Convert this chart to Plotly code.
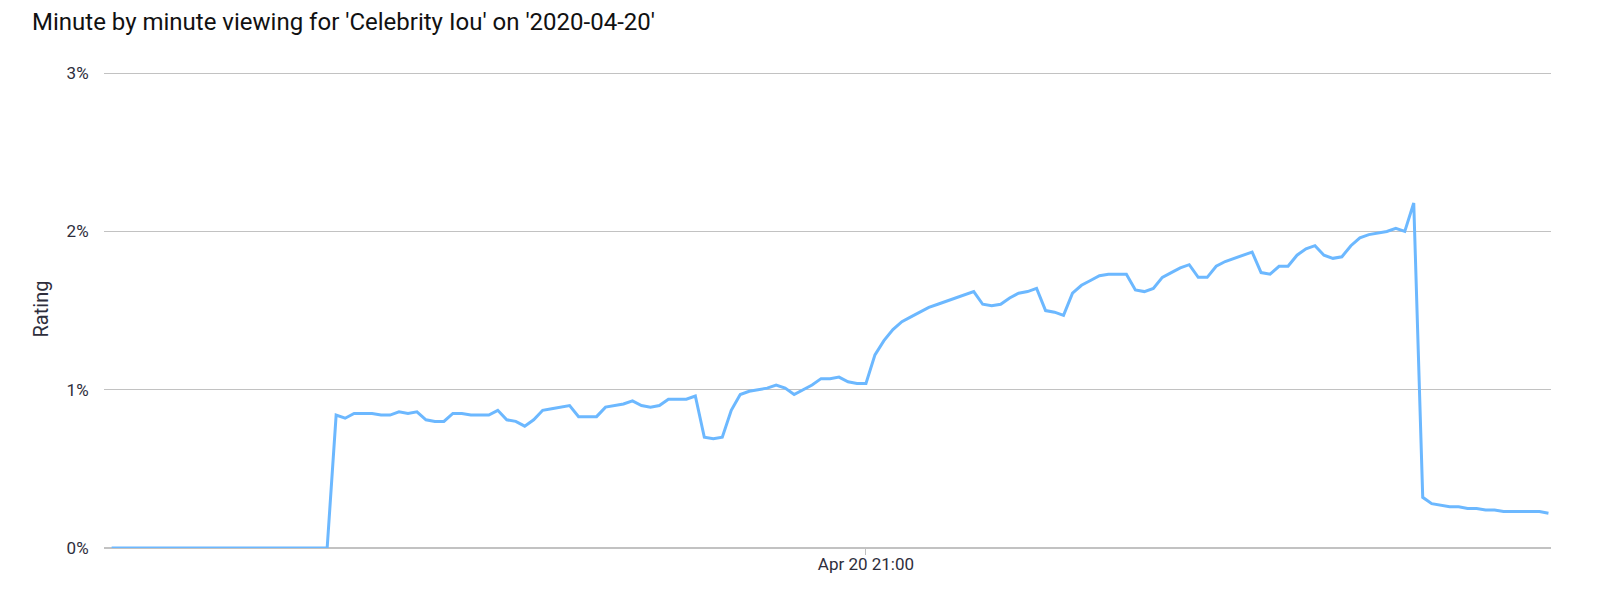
import pandas as pd
import plotly.graph_objects as go

title_text = "Minute by minute viewing for 'Celebrity Iou' on '2020-04-20'"
y_title = "Rating"
start_time = "2020-04-20 19:36"
x_range = ["2020-04-20 19:35:09", "2020-04-20 22:16:17"]
tick_times = ["2020-04-20 21:00"]
tick_labels = ["Apr 20 21:00"]
y_ticks = [0, 1, 2, 3]
y_tick_labels = ["0%", "1%", "2%", "3%"]

# rating in percent, one value per minute starting 19:36
ratings = [
    0, 0, 0, 0, 0, 0, 0, 0, 0, 0, 0, 0, 0, 0, 0, 0, 0, 0, 0, 0, 0, 0, 0, 0, 0,
    0.84, 0.82, 0.85, 0.85, 0.85, 0.84, 0.84, 0.86, 0.85, 0.86,
    0.81, 0.80, 0.80, 0.85, 0.85, 0.84, 0.84, 0.84, 0.87, 0.81,
    0.80, 0.77, 0.81, 0.87, 0.88, 0.89, 0.90, 0.83, 0.83, 0.83,
    0.89, 0.90, 0.91, 0.93, 0.90, 0.89, 0.90, 0.94, 0.94, 0.94,
    0.96, 0.70, 0.69, 0.70, 0.87, 0.97, 0.99, 1.00, 1.01, 1.03,
    1.01, 0.97, 1.00, 1.03, 1.07, 1.07, 1.08, 1.05, 1.04, 1.04,
    1.22, 1.31, 1.38, 1.43, 1.46, 1.49, 1.52, 1.54, 1.56, 1.58,
    1.60, 1.62, 1.54, 1.53, 1.54, 1.58, 1.61, 1.62, 1.64, 1.50,
    1.49, 1.47, 1.61, 1.66, 1.69, 1.72, 1.73, 1.73, 1.73, 1.63,
    1.62, 1.64, 1.71, 1.74, 1.77, 1.79, 1.71, 1.71, 1.78, 1.81,
    1.83, 1.85, 1.87, 1.74, 1.73, 1.78, 1.78, 1.85, 1.89, 1.91,
    1.85, 1.83, 1.84, 1.91, 1.96, 1.98, 1.99, 2.00, 2.02, 2.00,
    2.18, 0.32, 0.28, 0.27, 0.26, 0.26, 0.25, 0.25, 0.24, 0.24,
    0.23, 0.23, 0.23, 0.23, 0.23, 0.22,
]

times = pd.date_range(start=start_time, periods=len(ratings), freq="min")

FONT = "Roboto"
TEXT = "#2e2e3c"
GRID = "#c2c2c2"

# page body has an 8px margin; size the figure to fit the window
W, H = 1592, 595

fig = go.Figure()
fig.add_trace(go.Scatter(
    x=times, y=ratings, mode="lines",
    line=dict(color="#6cb8ff", width=3),
    hoverinfo="skip", showlegend=False,
))

fig.update_layout(
    width=W, height=H,
    margin=dict(l=96, r=49, t=62, b=55),
    paper_bgcolor="white", plot_bgcolor="white",
    font=dict(family=FONT, color=TEXT, size=17),
    title=dict(text=title_text, x=24 / W, xref="container", xanchor="left",
               y=1 - 14 / H, yref="container", yanchor="middle",
               font=dict(family=FONT, size=24, color="#111111")),
)
fig.update_xaxes(
    type="date", range=x_range,
    tickvals=tick_times, ticktext=tick_labels,
    showgrid=False, zeroline=False,
    showline=False,
    ticks="outside", ticklen=6, tickcolor=GRID, tickwidth=1,
    ticklabelstandoff=-5,
    tickfont=dict(family=FONT, size=17, color=TEXT),
)
fig.update_yaxes(
    range=[0, 3.02], tickvals=y_ticks, ticktext=y_tick_labels,
    showgrid=True, gridcolor=GRID, gridwidth=1,
    zeroline=True, zerolinecolor=GRID, zerolinewidth=1.5, showline=False,
    ticks="outside", ticklen=11, tickcolor="rgba(0,0,0,0)",
    tickfont=dict(family=FONT, size=17, color=TEXT),
    title=dict(text=y_title, standoff=12, font=dict(family=FONT, size=20, color=TEXT)),
)

fig.write_html("out.html")
